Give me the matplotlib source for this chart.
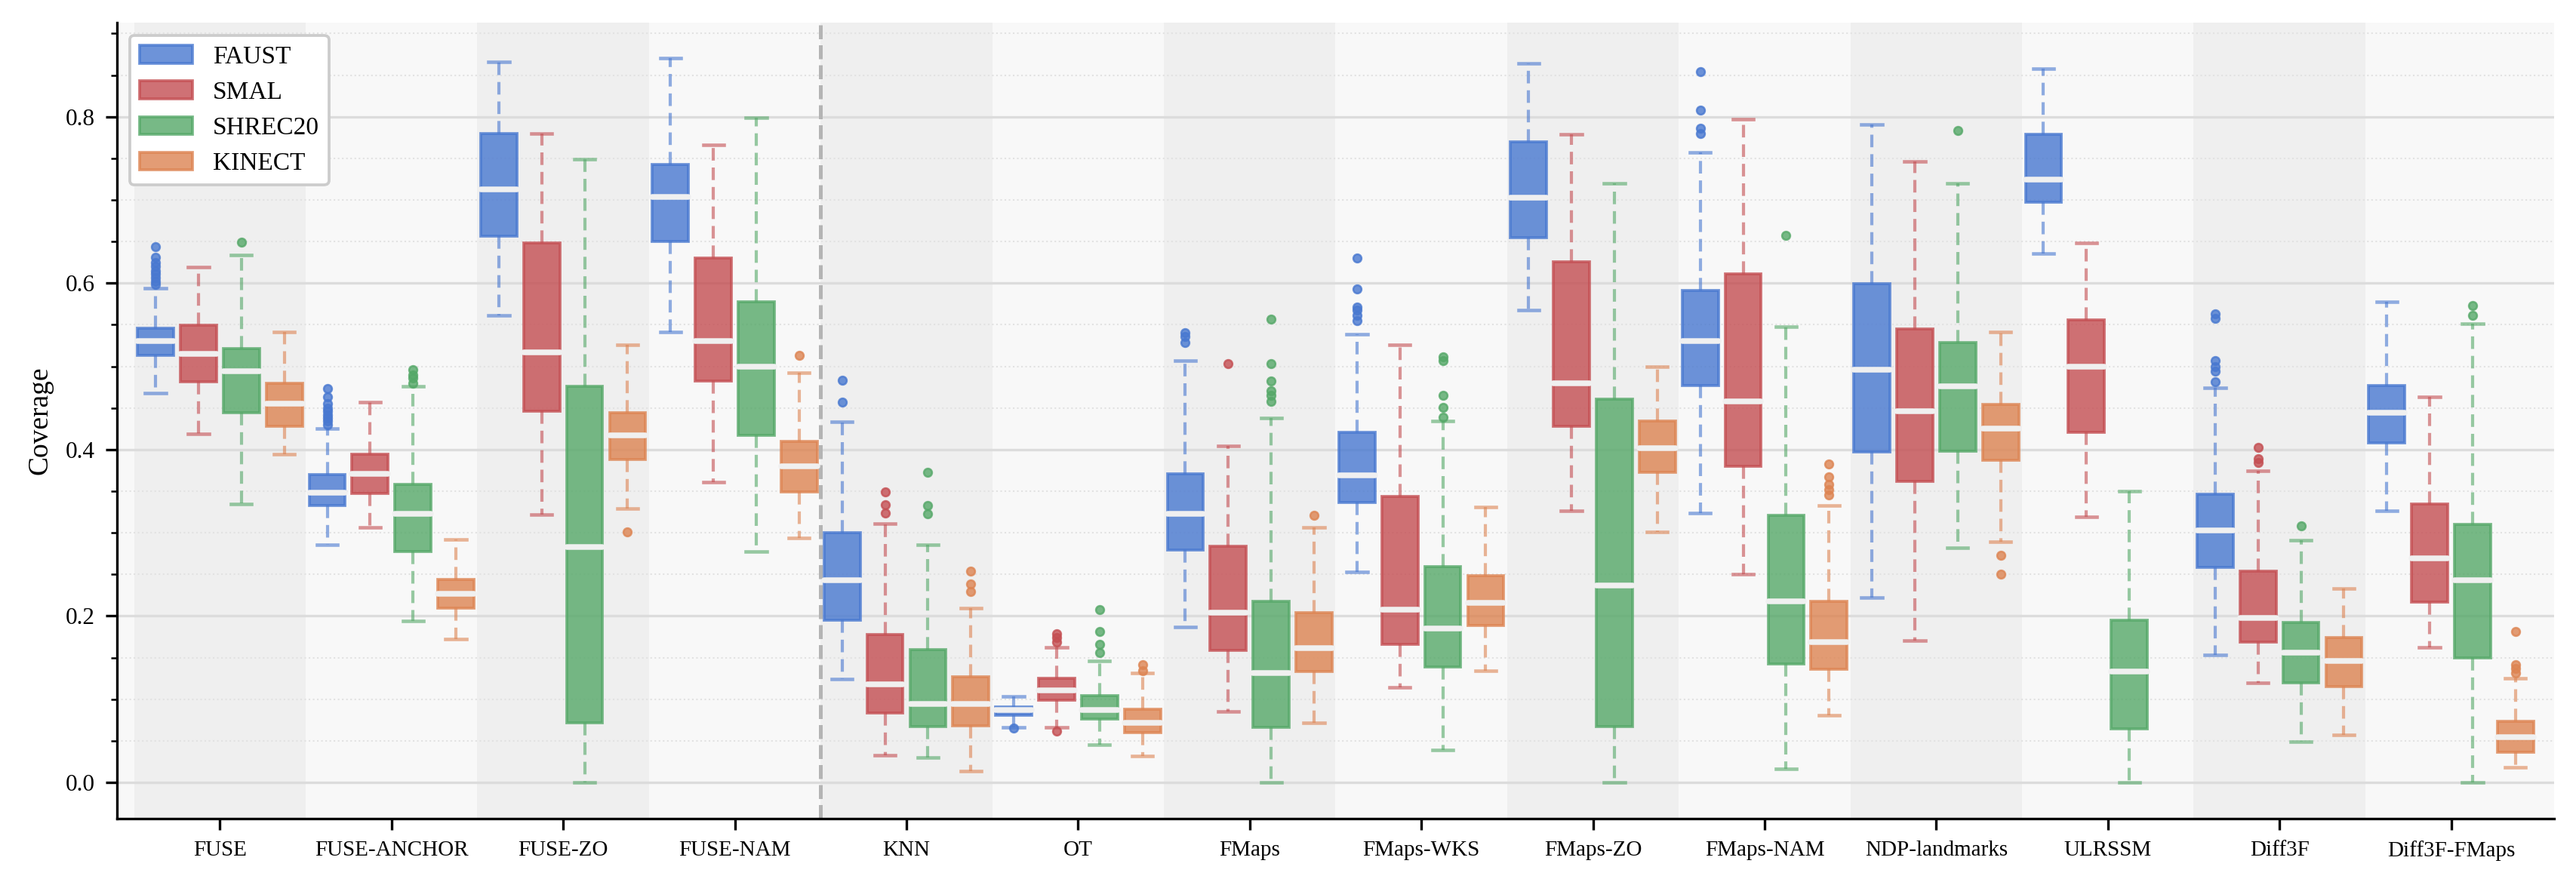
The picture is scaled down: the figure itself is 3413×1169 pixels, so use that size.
import matplotlib.pyplot as plt
from matplotlib.patches import Patch

methods = ['FUSE', 'FUSE-ANCHOR', 'FUSE-ZO', 'FUSE-NAM', 'KNN', 'OT', 'FMaps',
           'FMaps-WKS', 'FMaps-ZO', 'FMaps-NAM', 'NDP-landmarks', 'ULRSSM',
           'Diff3F', 'Diff3F-FMaps']
datasets = ['FAUST', 'SMAL', 'SHREC20', 'KINECT']
colors = ['#4878d0', '#c44e52', '#55a868', '#dd8452']

# box stats per method: [whisker low, q1, median, q3, whisker high]
faust_stats = [
    [0.468, 0.513, 0.530, 0.546, 0.594],
    [0.286, 0.333, 0.348, 0.370, 0.425],
    [0.561, 0.656, 0.713, 0.780, 0.866],
    [0.541, 0.650, 0.704, 0.743, 0.870],
    [0.124, 0.195, 0.243, 0.300, 0.433],
    [0.066, 0.081, 0.087, 0.091, 0.103],
    [0.187, 0.279, 0.323, 0.371, 0.507],
    [0.253, 0.336, 0.369, 0.421, 0.539],
    [0.568, 0.655, 0.703, 0.770, 0.864],
    [0.324, 0.477, 0.530, 0.591, 0.757],
    [0.222, 0.397, 0.496, 0.599, 0.791],
    [0.636, 0.697, 0.724, 0.779, 0.858],
    [0.153, 0.258, 0.303, 0.346, 0.474],
    [0.326, 0.408, 0.444, 0.477, 0.578],
]
faust_fliers = [
    [0.598, 0.602, 0.607, 0.611, 0.615, 0.620, 0.625, 0.631, 0.644],
    [0.430, 0.434, 0.438, 0.442, 0.446, 0.450, 0.455, 0.463, 0.473],
    [], [],
    [0.457, 0.483],
    [0.065],
    [0.529, 0.536, 0.540],
    [0.555, 0.561, 0.568, 0.571, 0.593, 0.630],
    [],
    [0.780, 0.786, 0.808, 0.854],
    [], [],
    [0.481, 0.494, 0.500, 0.507, 0.558, 0.563],
    [],
]

smal_stats = [
    [0.419, 0.481, 0.515, 0.549, 0.619],
    [0.306, 0.347, 0.371, 0.394, 0.457],
    [0.322, 0.446, 0.517, 0.648, 0.780],
    [0.361, 0.482, 0.530, 0.630, 0.766],
    [0.033, 0.083, 0.118, 0.178, 0.311],
    [0.066, 0.099, 0.111, 0.125, 0.162],
    [0.085, 0.159, 0.204, 0.284, 0.404],
    [0.114, 0.166, 0.208, 0.344, 0.526],
    [0.326, 0.428, 0.480, 0.626, 0.779],
    [0.250, 0.380, 0.458, 0.611, 0.797],
    [0.170, 0.362, 0.446, 0.545, 0.746],
    [0.319, 0.421, 0.500, 0.556, 0.648],
    [0.120, 0.169, 0.198, 0.254, 0.374],
    [0.162, 0.217, 0.269, 0.335, 0.463],
]
smal_fliers = [
    [], [], [], [],
    [0.324, 0.334, 0.349],
    [0.062, 0.169, 0.174, 0.179],
    [0.503],
    [], [], [], [], [],
    [0.384, 0.389, 0.403],
    [],
]

shrec_stats = [
    [0.335, 0.444, 0.494, 0.521, 0.634],
    [0.194, 0.277, 0.323, 0.358, 0.476],
    [0.000, 0.072, 0.283, 0.476, 0.749],
    [0.277, 0.417, 0.500, 0.578, 0.799],
    [0.030, 0.067, 0.094, 0.160, 0.286],
    [0.045, 0.076, 0.087, 0.104, 0.146],
    [0.000, 0.066, 0.131, 0.218, 0.438],
    [0.039, 0.139, 0.185, 0.259, 0.434],
    [0.000, 0.067, 0.237, 0.461, 0.720],
    [0.016, 0.142, 0.218, 0.321, 0.548],
    [0.282, 0.398, 0.476, 0.529, 0.720],
    [0.000, 0.064, 0.133, 0.195, 0.350],
    [0.049, 0.120, 0.156, 0.192, 0.291],
    [0.000, 0.150, 0.243, 0.310, 0.551],
]
shrec_fliers = [
    [0.649],
    [0.480, 0.486, 0.490, 0.496],
    [], [],
    [0.323, 0.333, 0.373],
    [0.156, 0.166, 0.181, 0.208],
    [0.458, 0.465, 0.471, 0.482, 0.503, 0.557],
    [0.439, 0.451, 0.465, 0.507, 0.511],
    [],
    [0.657],
    [0.783],
    [],
    [0.308],
    [0.561, 0.573],
]

# no KINECT result for ULRSSM
kinect_stats = [
    [0.394, 0.428, 0.455, 0.480, 0.541],
    [0.172, 0.209, 0.227, 0.244, 0.292],
    [0.329, 0.388, 0.417, 0.444, 0.526],
    [0.294, 0.349, 0.380, 0.410, 0.492],
    [0.014, 0.068, 0.094, 0.127, 0.209],
    [0.032, 0.060, 0.072, 0.088, 0.131],
    [0.072, 0.133, 0.161, 0.204, 0.306],
    [0.134, 0.189, 0.216, 0.248, 0.331],
    [0.301, 0.373, 0.402, 0.434, 0.500],
    [0.081, 0.136, 0.169, 0.218, 0.333],
    [0.289, 0.387, 0.425, 0.454, 0.541],
    None,
    [0.057, 0.115, 0.146, 0.174, 0.233],
    [0.018, 0.036, 0.054, 0.073, 0.125],
]
kinect_fliers = [
    [], [],
    [0.301],
    [0.513],
    [0.229, 0.238, 0.254],
    [0.134, 0.141],
    [0.321],
    [], [],
    [0.345, 0.352, 0.358, 0.367, 0.383],
    [0.250, 0.273],
    [], [],
    [0.131, 0.137, 0.141, 0.181],
]

all_stats = [faust_stats, smal_stats, shrec_stats, kinect_stats]
all_fliers = [faust_fliers, smal_fliers, shrec_fliers, kinect_fliers]

plt.rcParams['font.family'] = 'serif'
plt.rcParams['font.serif'] = ['Liberation Serif', 'DejaVu Serif']

fig, ax = plt.subplots(figsize=(3413 / 300, 1169 / 300), dpi=300)
fig.subplots_adjust(left=0.0454, right=0.9915, top=0.9743, bottom=0.0719)
ax.set_facecolor('#f8f8f8')

# alternating group bands
for i in range(len(methods)):
    if i % 2 == 0:
        ax.axvspan(i - 0.5, i + 0.5, color='#efefef', zorder=0, lw=0)

step = 0.25
for j, (stats, fliers, c) in enumerate(zip(all_stats, all_fliers, colors)):
    bxp_stats = []
    pos = []
    for i, s in enumerate(stats):
        if s is None:
            continue
        bxp_stats.append(dict(whislo=s[0], q1=s[1], med=s[2], q3=s[3],
                              whishi=s[4], fliers=fliers[i]))
        pos.append(i + (j - 1.5) * step)
    ax.bxp(bxp_stats, positions=pos, widths=0.21, capwidths=0.12,
           patch_artist=True, manage_ticks=False,
           boxprops=dict(facecolor=c, edgecolor=c, alpha=0.8, lw=0.9),
           whiskerprops=dict(color=c, ls=(0, (4, 2.2)), lw=1.0, alpha=0.6),
           capprops=dict(color=c, lw=1.1, alpha=0.6),
           medianprops=dict(color='#f0f0f0', lw=1.8, solid_capstyle='round'),
           flierprops=dict(marker='o', markerfacecolor=c, markeredgecolor=c,
                           markersize=2.6, markeredgewidth=0.6, alpha=0.8),
           zorder=3)

ax.axvline(3.5, color='#b4b4b4', ls='--', lw=1.2, zorder=2)

ax.set_xticks(range(len(methods)))
ax.set_xticklabels(methods, fontsize=7)
ax.set_xlim(-0.6, 13.6)
ax.set_ylim(-0.0435, 0.913)
ax.set_yticks([0.0, 0.2, 0.4, 0.6, 0.8])
ax.set_yticks([k * 0.05 for k in range(19)], minor=True)
ax.tick_params(axis='y', labelsize=7.5, width=0.8, length=3.5)
ax.tick_params(axis='y', which='minor', width=0.6, length=2)
ax.tick_params(axis='x', width=0.8, length=3.5)
ax.grid(axis='y', which='major', color='#dcdcdc', lw=0.8, zorder=1)
ax.grid(axis='y', which='minor', color='#e2e2e2', lw=0.5, ls=':', zorder=1)
ax.set_axisbelow(True)
ax.set_ylabel('Coverage', fontsize=9)

for s in ['top', 'right']:
    ax.spines[s].set_visible(False)
for s in ['left', 'bottom']:
    ax.spines[s].set_linewidth(0.8)

handles = [Patch(facecolor=c, edgecolor=c, alpha=0.8, lw=0.9) for c in colors]
leg = ax.legend(handles, datasets, loc='upper left', fontsize=8,
                handlelength=2.1, handletextpad=0.8, fancybox=True,
                framealpha=1, edgecolor='#cccccc')
leg.get_frame().set_linewidth(0.9)

fig.savefig('out.png', dpi=300)
